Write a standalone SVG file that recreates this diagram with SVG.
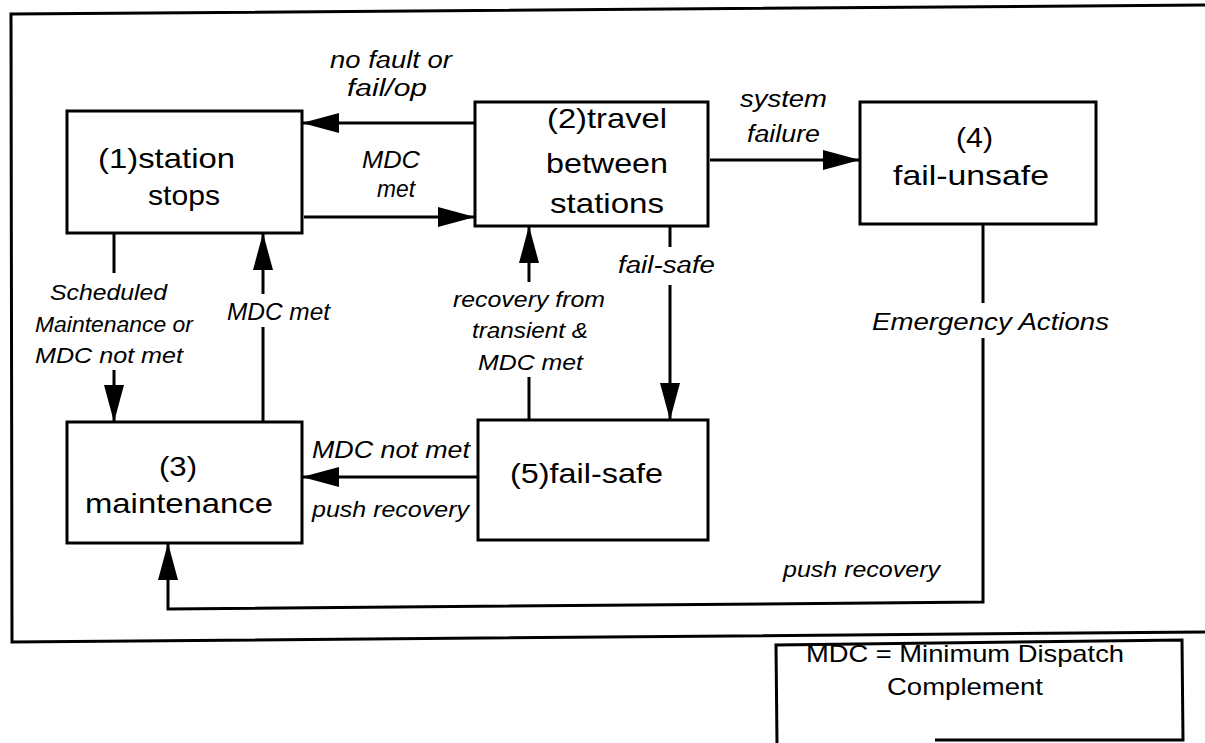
<svg xmlns="http://www.w3.org/2000/svg" width="1205" height="743" viewBox="0 0 1205 743">
<defs>
<marker id="ah" markerUnits="userSpaceOnUse" markerWidth="38" markerHeight="22" refX="37" refY="10" orient="auto">
<path d="M0,0 L37,10 L0,20 z" fill="#000"/>
</marker>
<style>
.box{fill:#fff;stroke:#000;stroke-width:3}
.ln{fill:none;stroke:#000;stroke-width:3}
.nt{font-family:"Liberation Sans",Arial,sans-serif;font-size:28px;fill:#000}
.lb{font-family:"Liberation Sans",Arial,sans-serif;font-style:italic;font-size:23px;fill:#000}
.sm{font-family:"Liberation Sans",Arial,sans-serif;font-style:italic;font-size:21.5px;fill:#000}
.lg{font-family:"Liberation Sans",Arial,sans-serif;font-size:24px;fill:#000}
</style>
</defs>
<rect width="1205" height="743" fill="#fff"/>
<g id="frame">
<path class="ln" d="M1205,5 L11,14 L12,642 L1205,632"/>
</g>
<g id="connectors">
<line class="ln" x1="475" y1="123" x2="302" y2="123" marker-end="url(#ah)"/>
<line class="ln" x1="304" y1="217" x2="475" y2="217" marker-end="url(#ah)"/>
<line class="ln" x1="710" y1="160" x2="860" y2="160" marker-end="url(#ah)"/>
<line class="ln" x1="670" y1="226" x2="670" y2="247"/>
<line class="ln" x1="670" y1="285" x2="670" y2="420" marker-end="url(#ah)"/>
<line class="ln" x1="529" y1="420" x2="529" y2="377"/>
<line class="ln" x1="529" y1="282" x2="529" y2="226" marker-end="url(#ah)"/>
<line class="ln" x1="114" y1="233" x2="114" y2="273"/>
<line class="ln" x1="114" y1="370" x2="114" y2="422" marker-end="url(#ah)"/>
<line class="ln" x1="263" y1="422" x2="263" y2="327"/>
<line class="ln" x1="263" y1="294" x2="263" y2="233" marker-end="url(#ah)"/>
<line class="ln" x1="478" y1="477" x2="302" y2="477" marker-end="url(#ah)"/>
<line class="ln" x1="983" y1="224" x2="983" y2="303"/>
<polyline class="ln" points="983,338 983,602 168,609 168,543" marker-end="url(#ah)"/>
<g id="edge-labels">
<text class="lb" x="330" y="68" textLength="122" lengthAdjust="spacingAndGlyphs">no fault or</text>
<text class="lb" x="347" y="96" textLength="80" lengthAdjust="spacingAndGlyphs">fail/op</text>
<text class="lb" x="362" y="168" textLength="58" lengthAdjust="spacingAndGlyphs">MDC</text>
<text class="lb" x="377" y="197" textLength="38" lengthAdjust="spacingAndGlyphs">met</text>
<text class="lb" x="740" y="107" textLength="87" lengthAdjust="spacingAndGlyphs">system</text>
<text class="lb" x="747" y="142" textLength="73" lengthAdjust="spacingAndGlyphs">failure</text>
<text class="lb" x="618" y="273" textLength="97" lengthAdjust="spacingAndGlyphs">fail-safe</text>
<text class="sm" x="453" y="307" textLength="152" lengthAdjust="spacingAndGlyphs">recovery from</text>
<text class="sm" x="472" y="338" textLength="116" lengthAdjust="spacingAndGlyphs">transient &amp;</text>
<text class="sm" x="478" y="370" textLength="105" lengthAdjust="spacingAndGlyphs">MDC met</text>
<text class="sm" x="50" y="300" textLength="117" lengthAdjust="spacingAndGlyphs">Scheduled</text>
<text class="sm" x="35" y="332" textLength="158" lengthAdjust="spacingAndGlyphs">Maintenance or</text>
<text class="sm" x="35" y="363" textLength="148" lengthAdjust="spacingAndGlyphs">MDC not met</text>
<text class="lb" x="227" y="320" textLength="103" lengthAdjust="spacingAndGlyphs">MDC met</text>
<text class="lb" x="312" y="458" textLength="158" lengthAdjust="spacingAndGlyphs">MDC not met</text>
<text class="sm" x="312" y="517" textLength="157" lengthAdjust="spacingAndGlyphs">push recovery</text>
<text class="lb" x="872" y="330" textLength="237" lengthAdjust="spacingAndGlyphs">Emergency Actions</text>
<text class="sm" x="783" y="577" textLength="157" lengthAdjust="spacingAndGlyphs">push recovery</text>
</g>
</g>
<g id="node1">
<rect class="box" x="67" y="111" width="235" height="122"/>
<text class="nt" x="98" y="168" textLength="137" lengthAdjust="spacingAndGlyphs">(1)station</text>
<text class="nt" x="148" y="205" textLength="72" lengthAdjust="spacingAndGlyphs">stops</text>
</g>
<g id="node2">
<rect class="box" x="475" y="102" width="233" height="124"/>
<text class="nt" x="547" y="128" textLength="120" lengthAdjust="spacingAndGlyphs">(2)travel</text>
<text class="nt" x="546" y="173" textLength="122" lengthAdjust="spacingAndGlyphs">between</text>
<text class="nt" x="550" y="213" textLength="114" lengthAdjust="spacingAndGlyphs">stations</text>
</g>
<g id="node4">
<rect class="box" x="860" y="102" width="236" height="122"/>
<text class="nt" x="956" y="147" textLength="37" lengthAdjust="spacingAndGlyphs">(4)</text>
<text class="nt" x="893" y="185" textLength="156" lengthAdjust="spacingAndGlyphs">fail-unsafe</text>
</g>
<g id="node3">
<rect class="box" x="67" y="422" width="235" height="121"/>
<text class="nt" x="159" y="476" textLength="38" lengthAdjust="spacingAndGlyphs">(3)</text>
<text class="nt" x="85" y="513" textLength="188" lengthAdjust="spacingAndGlyphs">maintenance</text>
</g>
<g id="node5">
<rect class="box" x="478" y="420" width="230" height="120"/>
<text class="nt" x="510" y="483" textLength="153" lengthAdjust="spacingAndGlyphs">(5)fail-safe</text>
</g>
<g id="legend">
<path class="ln" d="M777,743 L776,645 L1182,640 L1183,740 L935,740"/>
<text class="lg" x="806" y="662" textLength="318" lengthAdjust="spacingAndGlyphs">MDC = Minimum Dispatch</text>
<text class="lg" x="887" y="695" textLength="156" lengthAdjust="spacingAndGlyphs">Complement</text>
</g>
</svg>
